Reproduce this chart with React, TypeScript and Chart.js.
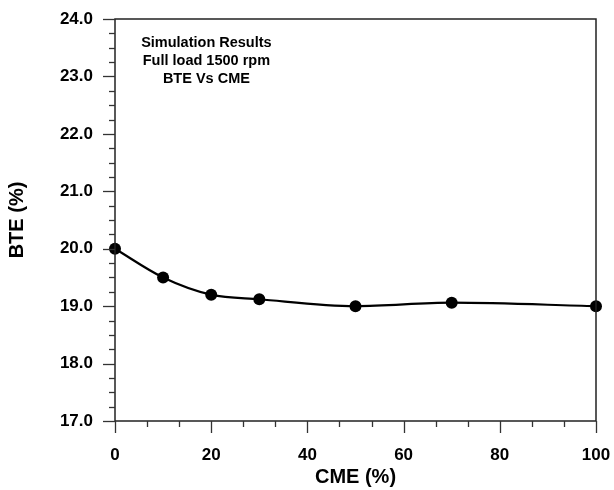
import React, { useEffect, useRef } from "react";
import { Chart, registerables } from "chart.js";

Chart.register(...registerables);

// CME blend share (%) and brake thermal efficiency (%)
const cmeValues = [0, 10, 20, 30, 50, 70, 100];
const bteValues = [20.0, 19.5, 19.2, 19.12, 19.0, 19.06, 19.0];
const noteLines = ["Simulation Results", "Full load 1500 rpm", "BTE Vs CME"];
const xTitle = "CME (%)";
const yTitle = "BTE (%)";

const FONT = "'Liberation Sans', Arial, Helvetica, sans-serif";

const framePlugin = {
  id: "frameAndTicks",
  afterDraw(chart: any) {
    const { ctx, chartArea: ca } = chart;
    const xs = chart.scales.x;
    const ys = chart.scales.y;
    ctx.save();
    ctx.strokeStyle = "#222";
    ctx.lineWidth = 1.5;
    ctx.beginPath();
    ctx.rect(ca.left, ca.top, ca.right - ca.left, ca.bottom - ca.top);
    ctx.stroke();

    ctx.strokeStyle = "#333";
    ctx.lineWidth = 1.3;
    // y ticks every 0.25, majors every 1.0
    for (let i = 0; i <= 28; i++) {
      const v = 17 + i * 0.25;
      const py = Math.round(ys.getPixelForValue(v)) + 0.5;
      const len = i % 4 === 0 ? 12 : 6;
      ctx.beginPath();
      ctx.moveTo(ca.left - len, py);
      ctx.lineTo(ca.left, py);
      ctx.stroke();
    }
    // x ticks: three intervals per major step of 20
    for (let i = 0; i <= 15; i++) {
      const v = (i * 20) / 3;
      const px = Math.round(xs.getPixelForValue(v)) + 0.5;
      const len = i % 3 === 0 ? 12 : 6;
      ctx.beginPath();
      ctx.moveTo(px, ca.bottom);
      ctx.lineTo(px, ca.bottom + len);
      ctx.stroke();
    }

    // annotation block
    ctx.fillStyle = "#000";
    ctx.font = `bold 14.5px ${FONT}`;
    ctx.textAlign = "center";
    ctx.textBaseline = "middle";
    const nx = xs.getPixelForValue(19);
    const ny = ys.getPixelForValue(23.58);
    noteLines.forEach((t, i) => ctx.fillText(t, nx, ny + i * 18));
    ctx.restore();
  },
};

export default function App() {
  const ref = useRef<HTMLCanvasElement>(null);

  useEffect(() => {
    if (!ref.current) return;
    const chart = new Chart(ref.current, {
      type: "line",
      data: {
        datasets: [
          {
            data: cmeValues.map((x, i) => ({ x, y: bteValues[i] })),
            borderColor: "#000",
            backgroundColor: "#000",
            borderWidth: 2.2,
            pointRadius: 6,
            pointHoverRadius: 6,
            pointBackgroundColor: "#000",
            pointBorderWidth: 0,
            cubicInterpolationMode: "monotone",
            clip: false,
          },
        ],
      },
      options: {
        responsive: false,
        animation: false,
        events: [],
        layout: { padding: { top: 19, right: 18, left: 0, bottom: 0 } },
        plugins: { legend: { display: false }, tooltip: { enabled: false } },
        scales: {
          x: {
            type: "linear",
            min: 0,
            max: 100,
            grid: { display: false, drawTicks: false },
            border: { display: false },
            ticks: {
              stepSize: 20,
              color: "#000",
              padding: 24,
              font: { family: FONT, size: 17, weight: "bold" },
              maxRotation: 0,
            },
            title: {
              display: true,
              text: xTitle,
              color: "#000",
              font: { family: FONT, size: 20, weight: "bold" },
              padding: { top: 0, bottom: 1 },
            },
            afterFit: (s: any) => {
              s.height = 69;
              s.paddingLeft = 0;
              s.paddingRight = 0;
            },
          },
          y: {
            type: "linear",
            min: 17,
            max: 24,
            grid: { display: false, drawTicks: false },
            border: { display: false },
            ticks: {
              stepSize: 1,
              color: "#000",
              padding: 22,
              font: { family: FONT, size: 17, weight: "bold" },
              callback: (v: any) => Number(v).toFixed(1),
            },
            title: {
              display: true,
              text: yTitle,
              color: "#000",
              font: { family: FONT, size: 20, weight: "bold" },
              padding: { top: 5, bottom: 0 },
            },
            afterFit: (s: any) => {
              s.width = 115;
              s.paddingTop = 0;
              s.paddingBottom = 0;
            },
          },
        },
      },
      plugins: [framePlugin],
    });
    return () => chart.destroy();
  }, []);

  return (
    <div style={{ position: "fixed", left: 0, top: 0, width: 614, height: 490, background: "#fff" }}>
      <canvas ref={ref} width={614} height={490} />
    </div>
  );
}
